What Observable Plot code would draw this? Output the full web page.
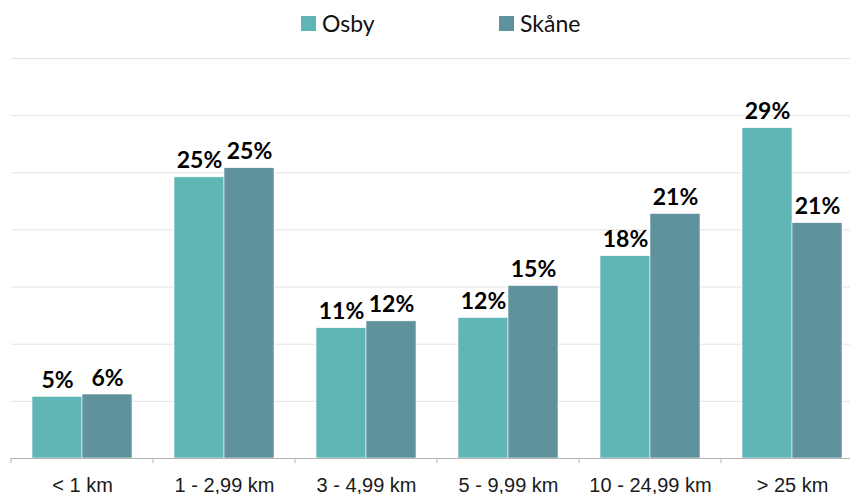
<!DOCTYPE html>
<html><head><meta charset="utf-8">
<script src="https://cdn.jsdelivr.net/npm/d3@7"></script>
<script src="https://cdn.jsdelivr.net/npm/@observablehq/plot@0.6"></script>
<style>
html,body{margin:0;padding:0;overflow:hidden;background:#fff;width:850px;height:494px}
#legend{position:relative;height:46px;font-family:Lato,"Open Sans",sans-serif;font-size:23px;color:#111}
#legend .sw{position:absolute;top:16px;width:15px;height:15px}
#legend .lb{position:absolute;top:8px;line-height:30px}
#chart svg{display:block;overflow:visible;max-width:none !important;width:863px;height:448px}
</style></head>
<body>
<div id="legend"></div>
<div id="chart"></div>
<script>
const categories = ["< 1 km","1 - 2,99 km","3 - 4,99 km","5 - 9,99 km","10 - 24,99 km","> 25 km"];
const series = ["Osby","Skåne"];
const colors = ["#60b6b4","#5f929c"];
const osby  = [5.4, 24.6, 11.4, 12.3, 17.7, 28.9];
const skane = [5.6, 25.4, 12.0, 15.1, 21.4, 20.6];
const gridTicks = [0,5,10,15,20,25,30,35];

const data = [];
categories.forEach((c,i)=>{
  data.push({cat:c, series:"Osby", value:osby[i]});
  data.push({cat:c, series:"Skåne", value:skane[i]});
});

// legend
const leg = document.getElementById("legend");
const legPos = [301, 499];
series.forEach((s,i)=>{
  const sw = document.createElement("div"); sw.className="sw";
  sw.style.left = legPos[i]+"px"; sw.style.background = colors[i];
  const lb = document.createElement("div"); lb.className="lb";
  lb.style.left = (legPos[i]+21)+"px"; lb.textContent = s;
  leg.appendChild(sw); leg.appendChild(lb);
});

const plot = Plot.plot({
  width: 863, height: 448,
  marginTop: 12, marginBottom: 36, marginLeft: 10, marginRight: 0,
  style: {fontFamily: "'Liberation Sans', Arial, sans-serif", fontSize: "20px", color: "#1a1a1a", background: "#fff"},
  fx: {domain: categories, padding: 0, label: null},
  x: {domain: series, paddingInner: 0, paddingOuter: 0.405, axis: null},
  y: {domain: [0, 35], axis: null},
  color: {domain: series, range: colors},
  marks: [
    Plot.ruleY(gridTicks.slice(1), {stroke: "#e3e3e3", strokeWidth: 1}),
    Plot.barY(data, {fx: "cat", x: "series", y: "value", fill: "series", stroke: "#ffffff", strokeWidth: 0.6}),
    Plot.text(data, {fx: "cat", x: "series", y: "value", text: d => Math.round(d.value) + "%",
      lineAnchor: "bottom", dy: -9, fontSize: 23, fontWeight: "bold", fontFamily: "Lato, 'Open Sans', sans-serif", fill: "#000"}),
    Plot.ruleY([0], {stroke: "#b3b3b3", strokeWidth: 1}),
    Plot.axisFx({anchor: "bottom", tickSize: 0, tickPadding: 19, fontSize: 20, label: null})
  ]
});
document.getElementById("chart").appendChild(plot);

// category boundary tick marks, placed with the plot's own scales
const fx = plot.scale("fx"), y = plot.scale("y");
const y0 = y.apply(0);
const svg = d3.select(plot);
const bounds = categories.map(c => fx.apply(c)).concat([fx.apply(categories[categories.length-1]) + fx.bandwidth]);
svg.append("g").selectAll("line").data(bounds).join("line")
  .attr("x1", d => d).attr("x2", d => d)
  .attr("y1", y0).attr("y2", y0 + 5)
  .attr("stroke", "#b3b3b3").attr("stroke-width", 1);
</script>
</body></html>
